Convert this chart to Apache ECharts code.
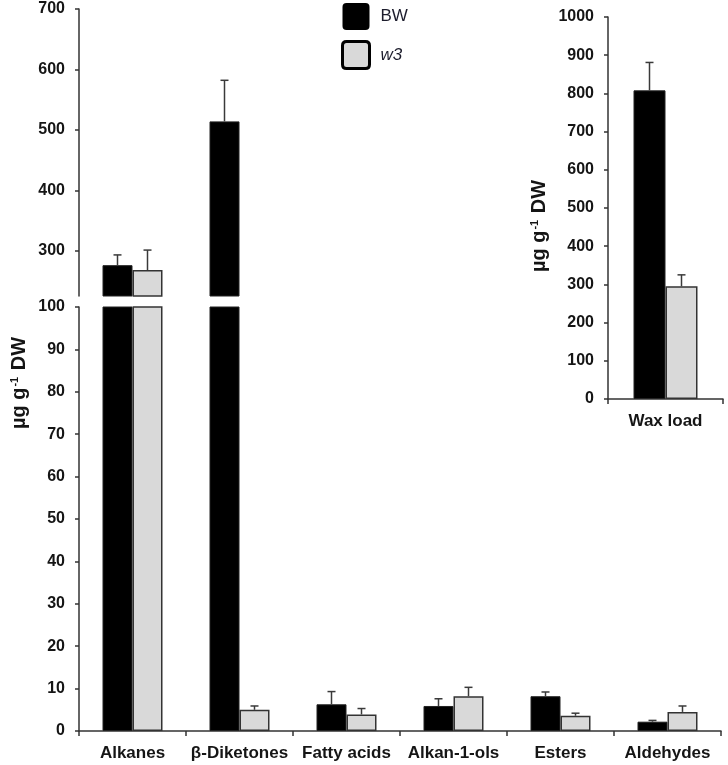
<!DOCTYPE html>
<html>
<head>
<meta charset="utf-8">
<script src="https://cdn.jsdelivr.net/npm/echarts@6/dist/echarts.min.js"></script>
<style>
html,body{margin:0;padding:0;background:#fff;}
#chart{width:728px;height:765px;}
</style>
</head>
<body>
<div id="chart"></div>
<script>
// ---- data ----
const categories = ['Alkanes', 'β-Diketones', 'Fatty acids', 'Alkan-1-ols', 'Esters', 'Aldehydes'];
const bwValues = [276, 514, 6.3, 5.9, 8.2, 2.2];
const bwSD = [17, 68, 3.0, 1.7, 1.0, 0.3];
const w3Values = [268, 5.0, 3.9, 8.2, 3.6, 4.5];
const w3SD = [33, 0.9, 1.4, 2.1, 0.6, 1.4];

const insetCategories = ['Wax load'];
const insetBW = [808];
const insetBWSD = [73];
const insetW3 = [295];
const insetW3SD = [30];

const upperTicks = [300, 400, 500, 600, 700];
const seriesNames = ['BW', 'w3'];

// ---- helpers ----
const FONT = 'Liberation Sans, Arial, sans-serif';
const TXT = '#151515';
const AX = '#333';

function errData(bw, bwsd, w3, w3sd) {
  const d = [];
  for (let i = 0; i < bw.length; i++) {
    d.push([i, bw[i], bw[i] + bwsd[i], -1]);
    d.push([i, w3[i], w3[i] + w3sd[i], 1]);
  }
  return d;
}
function makeErr(minV, maxV, half, cap) {
  return function (params, api) {
    const ci = api.value(0), m = api.value(1), top = api.value(2), side = api.value(3);
    if (m < minV || top > maxV) return null;
    const a = api.coord([ci, m]);
    const b = api.coord([ci, top]);
    const x = a[0] + side * half;
    const st = { stroke: '#3a3a3a', lineWidth: 1.5 };
    return {
      type: 'group',
      children: [
        { type: 'line', shape: { x1: x, y1: a[1], x2: x, y2: b[1] }, style: st },
        { type: 'line', shape: { x1: x - cap, y1: b[1], x2: x + cap, y2: b[1] }, style: st }
      ]
    };
  };
}

const yLabel = { fontSize: 16, fontWeight: 'bold', color: TXT, fontFamily: FONT, margin: 14, formatter: function (v) { return String(v); } };
const axLine = { show: true, lineStyle: { color: AX, width: 1.5 } };
const axTick = { show: true, length: 4, lineStyle: { color: AX, width: 1.5 } };

const bwStyle = { color: '#000', borderColor: '#222', borderWidth: 1 };
const w3Style = { color: '#d9d9d9', borderColor: '#333', borderWidth: 1.5 };
const boxIcon = 'path://M4,0 H23 Q27,0 27,4 V23 Q27,27 23,27 H4 Q0,27 0,23 V4 Q0,0 4,0 Z';

const chart = echarts.init(document.getElementById('chart'));
chart.setOption({
  animation: false,
  backgroundColor: '#fff',
  legend: {
    orient: 'vertical', left: 341, top: 3, padding: 0,
    itemWidth: 27, itemHeight: 27, itemGap: 10,
    icon: boxIcon,
    textStyle: { fontSize: 17, color: '#1c1c2c', fontFamily: FONT, padding: [0, 0, 0, 6] },
    data: [
      { name: seriesNames[0], itemStyle: { color: '#000', borderColor: '#000', borderWidth: 0 } },
      { name: seriesNames[1], itemStyle: { color: '#d9d9d9', borderColor: '#000', borderWidth: 3 }, textStyle: { fontStyle: 'italic' } }
    ]
  },
  grid: [
    { left: 79, top: 9, width: 642, height: 287 },
    { left: 79, top: 307, width: 642, height: 424 },
    { left: 608, top: 17, width: 115, height: 382 }
  ],
  xAxis: [
    { type: 'category', gridIndex: 0, data: categories, show: false },
    {
      type: 'category', gridIndex: 1, data: categories,
      axisLine: axLine,
      axisTick: { show: true, length: 5, lineStyle: { color: AX, width: 1.5 } },
      axisLabel: { fontSize: 17, fontWeight: 'bold', color: TXT, fontFamily: FONT, margin: 14, interval: 0 }
    },
    {
      type: 'category', gridIndex: 2, data: insetCategories,
      axisLine: axLine,
      axisTick: { show: true, length: 5, lineStyle: { color: AX, width: 1.5 } },
      axisLabel: { fontSize: 17, fontWeight: 'bold', color: TXT, fontFamily: FONT, margin: 14 }
    }
  ],
  yAxis: [
    {
      type: 'value', gridIndex: 0, min: 225, max: 700, interval: 25,
      axisLine: axLine,
      axisTick: Object.assign({}, axTick, { customValues: upperTicks }),
      axisLabel: Object.assign({}, yLabel, { customValues: upperTicks }),
      splitLine: { show: false }
    },
    {
      type: 'value', gridIndex: 1, min: 0, max: 100, interval: 10,
      axisLine: axLine, axisTick: axTick, axisLabel: yLabel,
      splitLine: { show: false }
    },
    {
      type: 'value', gridIndex: 2, min: 0, max: 1000, interval: 100,
      axisLine: axLine, axisTick: axTick, axisLabel: yLabel,
      splitLine: { show: false }
    }
  ],
  series: [
    { name: 'BW', type: 'bar', xAxisIndex: 0, yAxisIndex: 0, data: bwValues, barWidth: 30, barGap: '0%', itemStyle: bwStyle, clip: true },
    { name: 'w3', type: 'bar', xAxisIndex: 0, yAxisIndex: 0, data: w3Values, barWidth: 30, barGap: '0%', itemStyle: w3Style, clip: true },
    { name: 'BW', type: 'bar', xAxisIndex: 1, yAxisIndex: 1, data: bwValues, barWidth: 30, barGap: '0%', itemStyle: bwStyle, clip: true },
    { name: 'w3', type: 'bar', xAxisIndex: 1, yAxisIndex: 1, data: w3Values, barWidth: 30, barGap: '0%', itemStyle: w3Style, clip: true },
    { name: 'BW', type: 'bar', xAxisIndex: 2, yAxisIndex: 2, data: insetBW, barWidth: 32, barGap: '0%', itemStyle: bwStyle },
    { name: 'w3', type: 'bar', xAxisIndex: 2, yAxisIndex: 2, data: insetW3, barWidth: 32, barGap: '0%', itemStyle: w3Style },
    { name: 'errUpper', type: 'custom', xAxisIndex: 0, yAxisIndex: 0, z: 5, clip: true,
      renderItem: makeErr(225, 700, 15, 4), data: errData(bwValues, bwSD, w3Values, w3SD) },
    { name: 'errLower', type: 'custom', xAxisIndex: 1, yAxisIndex: 1, z: 5, clip: true,
      renderItem: makeErr(0, 100, 15, 4), data: errData(bwValues, bwSD, w3Values, w3SD) },
    { name: 'errInset', type: 'custom', xAxisIndex: 2, yAxisIndex: 2, z: 5, clip: true,
      renderItem: makeErr(0, 1000, 16, 4), data: errData(insetBW, insetBWSD, insetW3, insetW3SD) }
  ],
  graphic: [
    {
      type: 'text', x: 19, y: 383, rotation: Math.PI / 2,
      style: {
        text: 'µg g{s|-1} DW', fontSize: 20, fontWeight: 'bold', fill: TXT, fontFamily: FONT,
        align: 'center', verticalAlign: 'middle',
        rich: { s: { fontSize: 11, fontWeight: 'bold', fontFamily: FONT, fill: TXT, verticalAlign: 'top', padding: [0, 1, 8, 1] } }
      }
    },
    {
      type: 'text', x: 539, y: 226, rotation: Math.PI / 2,
      style: {
        text: 'µg g{s|-1} DW', fontSize: 20, fontWeight: 'bold', fill: TXT, fontFamily: FONT,
        align: 'center', verticalAlign: 'middle',
        rich: { s: { fontSize: 11, fontWeight: 'bold', fontFamily: FONT, fill: TXT, verticalAlign: 'top', padding: [0, 1, 8, 1] } }
      }
    }
  ]
});
</script>
</body>
</html>
